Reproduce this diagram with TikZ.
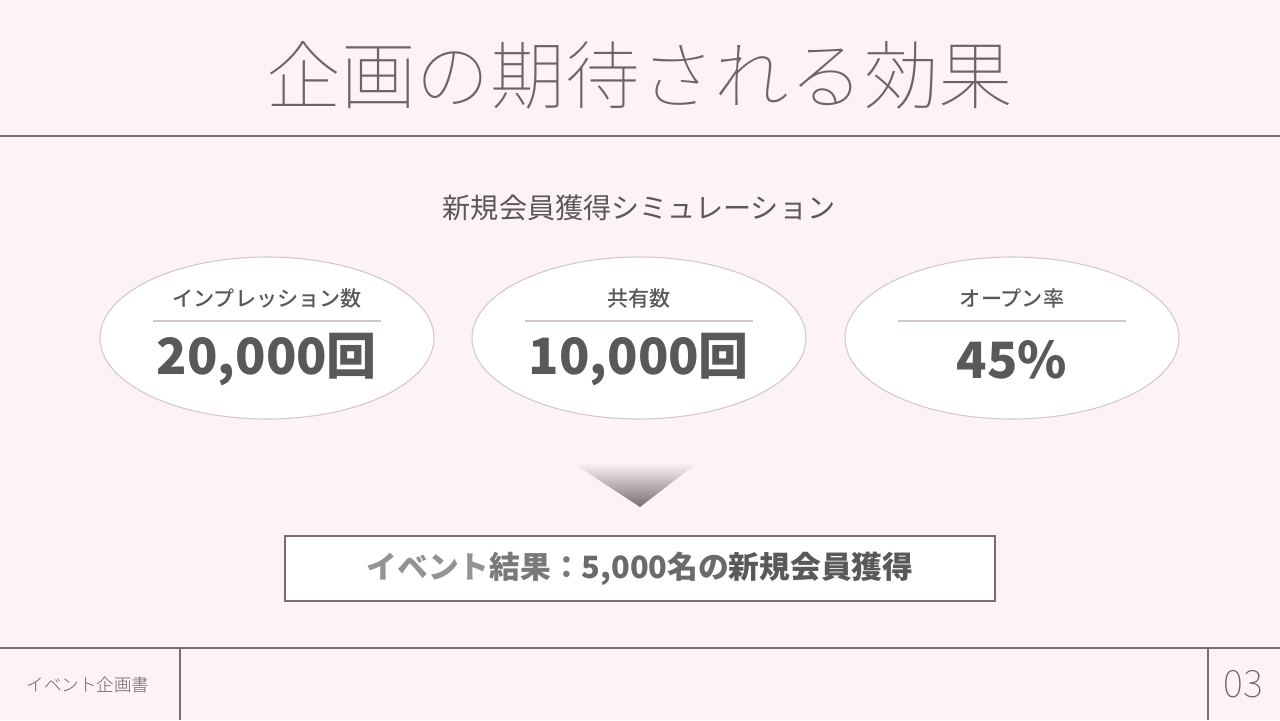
\documentclass[tikz,border=0pt]{standalone}
\usepackage{fontspec}
\setmainfont{Noto Sans CJK JP}
\newfontfamily\lightjp{Noto Sans CJK JP Light}
\newfontfamily\thinjp{Noto Sans CJK JP Thin}
\newfontfamily\mediumjp{Noto Sans CJK JP Medium}
\usepackage{xcolor}
\usetikzlibrary{positioning}
\usetikzlibrary{shapes.geometric}
\usetikzlibrary{calc}

\definecolor{bgpink}{HTML}{FDF2F6}
\definecolor{rulegray}{HTML}{7A6C70}
\definecolor{titlegray}{HTML}{6E6467}
\definecolor{textgray}{HTML}{595959}
\definecolor{ovalline}{HTML}{D2C8CB}

\tikzset{
    oval/.style={ellipse, draw=ovalline, fill=white, line width=0.6pt,
        minimum width=334*0.02cm, minimum height=162*0.02cm},
    ovallabel/.style={font=\mediumjp\fontsize{12}{14}\selectfont, text=textgray},
    ovalvalue/.style={font=\bfseries\fontsize{28.5}{32}\selectfont, text=textgray},
}

\begin{document}
\begin{tikzpicture}[x=0.02cm, y=-0.02cm]
    \fill[bgpink] (0,0) rectangle (1280,720);
    \useasboundingbox (0,0) rectangle (1280,720);

    % header and footer
    \node (title) at (640,75) {\thinjp\fontsize{42.5}{46}\selectfont\color{titlegray}企画の期待される効果};
    \coordinate (hl) at (0,136);
    \coordinate (hr) at (1280,136);
    \draw[rulegray, line width=1pt] (hl) -- (hr);
    \coordinate (fl) at (0,648);
    \coordinate (fr) at (1280,648);
    \draw[rulegray, line width=1pt] (fl) -- (fr);
    \coordinate (fa) at (180,648);
    \coordinate (fb) at (180,720);
    \draw[rulegray, line width=1pt] (fa) -- (fb);
    \coordinate (fc) at (1208,648);
    \coordinate (fd) at (1208,720);
    \draw[rulegray, line width=1pt] (fc) -- (fd);
    \node (doc) at (88,685) {\lightjp\fontsize{10}{12}\selectfont\color{titlegray}イベント企画書};
    \node (page) at (1243,684) {\thinjp\fontsize{21.5}{24}\selectfont\color{titlegray}03};

    \node (sub) at (639,208) {\fontsize{16}{19}\selectfont\color{textgray}新規会員獲得シミュレーション};

    % the three ovals
    \node[oval] (imp) at (267,338) {};
    \node[oval] (share) at (639,338) {};
    \node[oval] (open) at (1012,338) {};
    \foreach \n/\lab/\val in {imp/インプレッション数/{20,000回}, share/共有数/{10,000回}, open/オープン率/{45\%}}{
        \node[ovallabel] (\n-lab) at ($(\n)+(0,-39)$) {\lab};
        \node[ovalvalue] (\n-val) at ($(\n)+(0,22)$) {\val};
        \coordinate (\n-a) at ($(\n)+(-114,-17)$);
        \coordinate (\n-b) at ($(\n)+(114,-17)$);
        \draw[ovalline, line width=0.8pt] (\n-a) -- (\n-b);
    }

    % arrow down
    \shade[top color=bgpink, bottom color=rulegray] (573,463) -- (697,463) -- (640,507) -- cycle;

    \node[draw=rulegray, fill=white, line width=0.8pt, minimum width=710*0.02cm,
        minimum height=65*0.02cm, font=\fontsize{17.5}{20}\selectfont\bfseries] (result) at (640,568.5)
        {\color{gray!85}イベント\color{gray!95!black}結果：\color{textgray!90!white}5,000名の\color{textgray}新規会員獲得};
\end{tikzpicture}
\end{document}
